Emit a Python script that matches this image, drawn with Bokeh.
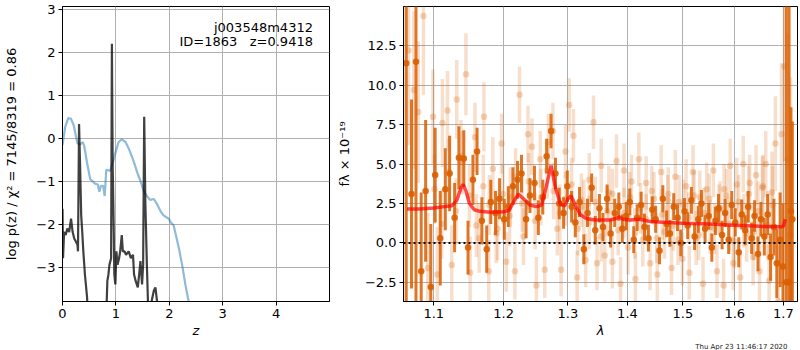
from bokeh.plotting import figure
from bokeh.layouts import row
from bokeh.models import (ColumnDataSource, FixedTicker, CustomJSTickFormatter,
                          Label, Span, Range1d, Title)
from bokeh.embed import file_html
from bokeh.resources import INLINE

# ---------------- left panel data (redshift) ----------------
z_chi2 = [0.0, 0.05, 0.11, 0.16, 0.21, 0.26, 0.28, 0.33, 0.38, 0.41,
          0.46, 0.52, 0.61, 0.66, 0.69, 0.72, 0.76, 0.79, 0.82, 0.86,
          0.89, 0.94, 0.99, 1.05, 1.11, 1.18, 1.24, 1.30, 1.36, 1.39,
          1.46, 1.52, 1.58, 1.64, 1.71, 1.77, 1.83, 1.89, 1.99, 2.03,
          2.08, 2.11, 2.18, 2.24, 2.30, 2.36, 2.45, 3.0, 4.0, 5.0]
chi2_curve = [-0.15, 0.27, 0.48, 0.46, 0.31, 0.0, -0.11, -0.14, -0.08, -0.19,
              -0.57, -0.95, -1.05, -1.07, -1.24, -1.1, -1.1, -1.34, -0.73, -0.74,
              -0.76, -0.57, -0.34, -0.08, -0.02, -0.08, -0.23, -0.42, -0.63, -0.76,
              -0.99, -1.22, -1.34, -1.43, -1.41, -1.53, -1.68, -1.79, -1.87, -1.96,
              -2.02, -2.18, -2.56, -2.94, -3.4, -3.79, -4.5, -8, -12, -15]

z_pz = [0.0, 0.01, 0.03, 0.06, 0.09, 0.125, 0.16, 0.19, 0.22, 0.25,
        0.28, 0.29, 0.31, 0.33, 0.35, 0.37, 0.39, 0.42, 0.46, 0.49,
        0.81, 0.84, 0.86, 0.88, 0.91, 0.925, 0.94, 0.96, 0.97, 0.99,
        1.01, 1.03, 1.06, 1.08, 1.11, 1.13, 1.16, 1.19, 1.24, 1.28,
        1.32, 1.34, 1.37, 1.41, 1.43, 1.46, 1.49, 1.51, 1.53, 1.55,
        1.58, 1.60, 1.63, 1.67, 1.71, 1.74, 1.77, 1.80, 2.5, 5.0]
log_pz = [-1.64, -2.79, -2.18, -2.25, -2.10, -2.18, -1.87, -2.18, -2.33, -2.40,
          -2.48, -2.63, 0.34, -0.65, -1.79, -2.18, -2.63, -3.17, -3.70, -4.5,
          -4.5, -3.32, -3.17, -2.94, -2.79, 2.21, -0.65, -2.18, -3.17, -3.40,
          -2.63, -2.94, -2.79, -2.63, -2.25, -2.63, -2.63, -2.71, -2.63, -2.79,
          -2.71, -3.17, -3.32, -3.47, -3.24, -2.86, -3.40, -2.94, 0.51, -1.41,
          -2.94, -3.79, -4.3, -3.79, -3.55, -3.47, -3.79, -4.5, -10, -20]

z_ticks = [0, 1, 2, 3, 4]
logp_ticks = [-3, -2, -1, 0, 1, 2, 3]

# ---------------- right panel data (spectrum) ----------------
model_wave = [1.064, 1.08, 1.10, 1.115, 1.125, 1.132, 1.138, 1.141, 1.145, 1.150,
              1.157, 1.165, 1.18, 1.20, 1.208, 1.215, 1.222, 1.230, 1.240, 1.250,
              1.258, 1.265, 1.273, 1.280, 1.288, 1.295, 1.300, 1.305, 1.312, 1.320,
              1.330, 1.345, 1.370, 1.380, 1.386, 1.392, 1.405, 1.420, 1.428, 1.44,
              1.47, 1.50, 1.55, 1.60, 1.65, 1.695, 1.700, 1.704]
model_flux = [2.15, 2.15, 2.22, 2.3, 2.35, 2.7, 3.5, 3.7, 3.3, 2.5,
              2.1, 2.0, 1.95, 1.98, 2.05, 2.6, 3.1, 2.8, 2.4, 2.3,
              2.4, 3.5, 4.9, 3.5, 2.45, 2.35, 2.8, 3.0, 2.4, 1.8,
              1.55, 1.45, 1.45, 1.55, 1.65, 1.5, 1.45, 1.5, 1.45, 1.35,
              1.3, 1.25, 1.2, 1.12, 1.05, 1.02, 1.05, 1.5]

dark_wave = [1.063, 1.070, 1.076, 1.083, 1.089, 1.096, 1.102, 1.109, 1.116, 1.122,
             1.129, 1.135, 1.142, 1.148, 1.155, 1.161, 1.168, 1.175, 1.181, 1.188,
             1.194, 1.201, 1.207, 1.214, 1.221, 1.227, 1.234, 1.240, 1.247, 1.253,
             1.260, 1.266, 1.273, 1.280, 1.286, 1.293, 1.299, 1.306, 1.312, 1.319,
             1.326, 1.332, 1.339, 1.345, 1.352, 1.358, 1.365, 1.371, 1.378, 1.385,
             1.391, 1.398, 1.404, 1.411, 1.417, 1.424, 1.430, 1.437, 1.444, 1.450,
             1.457, 1.463, 1.470, 1.476, 1.483, 1.490, 1.496, 1.503, 1.509, 1.516,
             1.522, 1.529, 1.535, 1.542, 1.549, 1.555, 1.562, 1.568, 1.575, 1.581,
             1.588, 1.594, 1.601, 1.608, 1.614, 1.621, 1.627, 1.634, 1.640, 1.647,
             1.653, 1.660, 1.667, 1.673, 1.680, 1.686, 1.693, 1.699, 1.706, 1.712,
             1.716, 1.719]
dark_flux = [11.4, 3.1, 11.5, -1.8, 3.3, -2.8, 4.3, 0.3, 3.4, 4.4,
             1.6, 5.4, 5.35, -0.3, 4.0, 5.8, 1.4, -0.4, 2.6, 1.9,
             2.8, 1.5, 2.3, 3.6, 4.0, 4.4, 1.5, 3.0, 3.8, 1.6,
             2.9, 5.5, 7.1, 4.4, 2.5, 1.9, 3.6, 2.3, 1.3, 2.6,
             -0.4, 1.9, 3.5, 0.8, 2.2, 1.0, 2.8, 0.6, 1.9, 2.3,
             0.9, 1.7, 2.6, 0.2, 1.6, 2.4, 1.0, 0.3, 2.1, 1.5,
             -0.5, 2.8, 1.2, 0.6, 2.3, 1.6, 0.0, 2.0, 1.1, 2.7,
             0.4, 1.5, 2.5, 0.9, 1.7, -0.3, 1.4, 2.2, 0.5, 1.9,
             0.2, 2.4, 1.3, -0.6, 1.8, 0.8, 2.3, 0.3, 1.7, -0.7,
             1.5, 0.4, 1.8, -0.9, 1.0, -1.3, 0.2, -1.5, -2.5, -2.5,
             2.0, 1.5]
dark_err = [16, 6, 16, 5, 4.5, 4, 3, 3, 2.6, 2.4,
            2.2, 2.0, 1.8, 1.7, 1.6, 1.5, 1.5, 1.5, 1.4, 1.4,
            1.3, 1.3, 1.3, 1.2, 1.2, 1.2, 1.2, 1.1, 1.1, 1.1,
            1.1, 1.1, 1.1, 1.0, 1.0, 1.0, 1.0, 1.0, 0.95, 0.95,
            0.95, 0.9, 0.9, 0.9, 0.9, 0.9, 0.9, 0.9, 0.9, 0.9,
            0.9, 0.9, 0.85, 0.85, 0.85, 0.85, 0.85, 0.85, 0.85, 0.85,
            0.85, 0.85, 0.85, 0.85, 0.85, 0.85, 0.85, 0.85, 0.85, 0.85,
            0.85, 0.85, 0.85, 0.85, 0.85, 0.9, 0.9, 0.9, 0.9, 0.9,
            0.9, 0.9, 0.9, 0.95, 0.95, 0.95, 1.0, 1.0, 1.0, 1.1,
            1.1, 1.2, 1.3, 1.5, 1.8, 2.2, 3.0, 4.0, 18, 18,
            6.6, 6.2]

lightA_wave = [1.066, 1.073, 1.079, 1.086, 1.092, 1.099, 1.105, 1.112, 1.119, 1.125,
               1.132, 1.138, 1.145, 1.151, 1.158, 1.164, 1.171, 1.178, 1.184, 1.191,
               1.197, 1.204, 1.210, 1.217, 1.224, 1.230, 1.237, 1.243, 1.250, 1.256,
               1.263, 1.269, 1.276, 1.283, 1.289, 1.296, 1.302, 1.309, 1.315, 1.322,
               1.329, 1.335, 1.342, 1.348, 1.355, 1.361, 1.368, 1.374, 1.381, 1.388,
               1.394, 1.401, 1.407, 1.414, 1.420, 1.427, 1.433, 1.440, 1.447, 1.453,
               1.460, 1.466, 1.473, 1.479, 1.486, 1.493, 1.499, 1.506, 1.512, 1.519,
               1.525, 1.532, 1.538, 1.545, 1.552, 1.558, 1.565, 1.571, 1.578, 1.584,
               1.591, 1.597, 1.604, 1.611, 1.617, 1.624, 1.630, 1.637, 1.643, 1.650,
               1.656, 1.663, 1.670, 1.676, 1.683, 1.689, 1.696, 1.702, 1.709, 1.715]
lightA_flux = [12.2, 9.7, 8.3, 14.4, -1.6, 8.0, -2.0, 7.6, 8.4, -1.4,
               9.1, 5.5, 10.7, -1.9, 6.7, 0.3, 8.0, -1.8, 4.7, 0.9,
               6.3, -1.2, 2.9, -1.8, 9.4, 0.4, 6.9, 6.1, -2.7, 5.3,
               -1.7, 6.4, 7.1, 0.9, -1.7, 5.8, 8.75, 6.8, -2.2, 2.7,
               -1.1, 4.0, 7.65, -1.3, 4.9, -0.8, 3.2, -1.2, 5.2, -2.6,
               4.6, -0.3, 3.9, -2.3, 5.3, 0.2, 3.8, -1.3, 2.8, -2.0,
               4.5, 0.7, 3.1, -1.6, 4.2, 2.6, -1.0, 3.6, -1.9, 4.5,
               0.3, 2.9, -2.6, 3.4, 1.0, 4.6, -1.8, 2.2, -2.7, 3.0,
               4.9, -1.3, 3.7, -2.2, 5.0, 0.6, 3.8, -0.9, 4.3, -1.8,
               3.5, 5.0, -2.4, 3.2, 6.3, -3.7, 6.9, 11.2, 5.3, 0.5]
lightA_err = [6, 5, 4.5, 5, 3.5, 3, 3, 2.8, 2.5, 2.5,
              2.5, 2.3, 2.6, 2.3, 2.2, 2.2, 2.2, 2.0, 2.0, 2.0,
              1.9, 1.9, 1.9, 1.8, 1.8, 1.8, 1.8, 1.8, 1.8, 1.8,
              1.8, 1.8, 1.8, 1.7, 1.7, 1.7, 1.7, 1.7, 1.7, 1.7,
              1.7, 1.7, 1.7, 1.7, 1.7, 1.7, 1.7, 1.7, 1.7, 1.7,
              1.7, 1.7, 1.7, 1.7, 1.7, 1.7, 1.7, 1.7, 1.7, 1.7,
              1.7, 1.7, 1.7, 1.7, 1.7, 1.7, 1.7, 1.7, 1.7, 1.7,
              1.7, 1.7, 1.7, 1.7, 1.7, 1.7, 1.7, 1.7, 1.7, 1.7,
              1.7, 1.7, 1.7, 1.7, 1.8, 1.8, 1.8, 1.8, 1.9, 1.9,
              2.0, 2.1, 2.3, 2.6, 3.0, 3.5, 4.5, 6, 8, 10]

lightB_wave = [1.101, 1.111, 1.121, 1.131, 1.140, 1.150, 1.160, 1.170, 1.179, 1.189,
               1.199, 1.209, 1.218, 1.228, 1.238, 1.248, 1.257, 1.267, 1.277, 1.287,
               1.296, 1.306, 1.316, 1.326, 1.335, 1.345, 1.355, 1.365, 1.374, 1.384,
               1.394, 1.404, 1.413, 1.423, 1.433, 1.443, 1.452, 1.462, 1.472, 1.482,
               1.491, 1.501, 1.511, 1.521, 1.530, 1.540, 1.550, 1.560, 1.569, 1.579,
               1.589, 1.599, 1.608, 1.618, 1.628, 1.638, 1.647, 1.657, 1.667, 1.677]
lightB_flux = [3.4, 1.2, 4.5, 2.0, 5.1, 3.0, 1.1, 3.6, 2.4, 0.6,
               3.1, 1.7, 4.2, 2.5, 3.9, 1.4, 2.9, 4.6, 3.3, 1.9,
               2.8, 3.7, 0.9, 2.3, 1.3, 2.6, 0.4, 2.0, 3.1, 0.8,
               1.9, 2.9, 0.6, 2.2, 1.5, 3.3, 0.3, 1.8, 2.7, 1.1,
               0.2, 2.4, 1.6, 3.0, 0.5, 1.9, 2.8, 0.9, 2.1, 3.4,
               1.2, 0.1, 2.6, 1.4, 3.1, 0.7, 2.0, 3.6, 1.1, 2.4]
lightB_err = [2.2, 2.2, 2.1, 2.1, 2.0, 2.0, 2.0, 2.0, 1.9, 1.9,
              1.9, 1.9, 1.8, 1.8, 1.8, 1.8, 1.8, 1.8, 1.8, 1.8,
              1.7, 1.7, 1.7, 1.7, 1.7, 1.6, 1.6, 1.6, 1.6, 1.6,
              1.6, 1.6, 1.6, 1.6, 1.6, 1.6, 1.6, 1.6, 1.6, 1.6,
              1.6, 1.6, 1.6, 1.6, 1.6, 1.6, 1.6, 1.6, 1.6, 1.6,
              1.7, 1.7, 1.7, 1.7, 1.8, 1.8, 1.9, 2.0, 2.2, 2.5]

wave_ticks = [1.1, 1.2, 1.3, 1.4, 1.5, 1.6, 1.7]
flux_ticks = [-2.5, 0.0, 2.5, 5.0, 7.5, 10.0, 12.5]

FONT = "DejaVu Sans"
ORANGE = "#d95f02"
GRID = "#b0b0b0"
H = 350
BOTTOM = 48


def style(p):
    p.background_fill_color = "white"
    p.border_fill_color = "white"
    p.outline_line_color = "black"
    p.outline_line_width = 1
    p.outline_line_alpha = 1
    for ax in p.axis:
        ax.axis_line_color = "black"
        ax.major_tick_line_color = "black"
        ax.major_tick_in = 0
        ax.major_tick_out = 4
        ax.minor_tick_in = 0
        ax.minor_tick_out = 0
        ax.major_label_text_font = FONT
        ax.major_label_text_font_size = "13px"
        ax.major_label_text_color = "black"
        ax.major_label_standoff = 3
        ax.axis_label_text_font = FONT
        ax.axis_label_text_font_size = "13px"
        ax.axis_label_text_color = "black"
    p.grid.grid_line_color = GRID
    p.grid.grid_line_width = 1


minus_fmt0 = CustomJSTickFormatter(code="return tick.toFixed(0).replace('-', '\u2212');")
minus_fmt1 = CustomJSTickFormatter(code="return tick.toFixed(1).replace('-', '\u2212');")

# ---------------- left figure ----------------
p1 = figure(width=333, height=H, output_backend="svg", toolbar_location=None,
            x_range=Range1d(0, 5.0), y_range=Range1d(-3.8, 3.08),
            min_border_left=62, min_border_right=4, min_border_top=6,
            min_border_bottom=BOTTOM)
p1.line(z_chi2, chi2_curve, line_color="#1f77b4", line_alpha=0.5, line_width=2.2)
p1.line(z_pz, log_pz, line_color="black", line_alpha=0.75, line_width=2.2)
style(p1)
p1.xaxis.ticker = FixedTicker(ticks=z_ticks)
p1.yaxis.ticker = FixedTicker(ticks=logp_ticks)
p1.xgrid.ticker = FixedTicker(ticks=z_ticks)
p1.ygrid.ticker = FixedTicker(ticks=logp_ticks)
p1.yaxis.formatter = minus_fmt0
p1.xaxis.axis_label = "z"
p1.xaxis.axis_label_text_font_style = "italic"
p1.xaxis.axis_label_standoff = 2
p1.yaxis.axis_label = "log p(z) / \u03c7\u00b2 = 7145/8319 = 0.86"
p1.yaxis.axis_label_text_font_style = "normal"
p1.yaxis.axis_label_standoff = 14
p1.add_layout(Label(x=4.69, y=2.59, text="j003548m4312", text_align="right",
                    text_baseline="alphabetic", text_font=FONT,
                    text_font_size="13px", text_color="black"))
p1.add_layout(Label(x=4.69, y=2.27, text="ID=1863\u00a0\u00a0\u00a0z=0.9418",
                    text_align="right", text_baseline="alphabetic", text_font=FONT,
                    text_font_size="13px", text_color="black"))

# ---------------- right figure ----------------
p2 = figure(width=465, height=H, output_backend="svg", toolbar_location=None,
            x_axis_type="log", x_range=Range1d(1.0594, 1.730),
            y_range=Range1d(-3.72, 15.0),
            min_border_left=66, min_border_right=1, min_border_top=6,
            min_border_bottom=BOTTOM)

srcA = ColumnDataSource(dict(w=lightA_wave, f=lightA_flux,
                             lo=[f - e for f, e in zip(lightA_flux, lightA_err)],
                             hi=[f + e for f, e in zip(lightA_flux, lightA_err)]))
srcB = ColumnDataSource(dict(w=lightB_wave, f=lightB_flux,
                             lo=[f - e for f, e in zip(lightB_flux, lightB_err)],
                             hi=[f + e for f, e in zip(lightB_flux, lightB_err)]))
srcD = ColumnDataSource(dict(w=dark_wave, f=dark_flux,
                             lo=[f - e for f, e in zip(dark_flux, dark_err)],
                             hi=[f + e for f, e in zip(dark_flux, dark_err)]))

for src in (srcA, srcB):
    p2.segment(x0="w", y0="lo", x1="w", y1="hi", source=src,
               line_color=ORANGE, line_alpha=0.2, line_width=3.5)
    p2.scatter(x="w", y="f", source=src, size=6.5, fill_color=ORANGE,
               fill_alpha=0.25, line_color=None)

p2.segment(x0="w", y0="lo", x1="w", y1="hi", source=srcD,
           line_color=ORANGE, line_alpha=0.85, line_width=3)
p2.scatter(x="w", y="f", source=srcD, size=6.5, fill_color=ORANGE,
           fill_alpha=0.9, line_color=None)

p2.line(model_wave, model_flux, line_color="red", line_alpha=0.7, line_width=3.5)
p2.add_layout(Span(location=0, dimension="width", line_color="black",
                   line_dash="2 3", line_width=2))

style(p2)
p2.xaxis.ticker = FixedTicker(ticks=wave_ticks)
p2.xgrid.ticker = FixedTicker(ticks=wave_ticks)
p2.yaxis.ticker = FixedTicker(ticks=flux_ticks)
p2.ygrid.ticker = FixedTicker(ticks=flux_ticks)
p2.xaxis.formatter = minus_fmt1
p2.yaxis.formatter = minus_fmt1
p2.xaxis.axis_label = "\u03bb"
p2.xaxis.axis_label_text_font_style = "italic"
p2.xaxis.axis_label_standoff = 2
p2.yaxis.axis_label = "f\u03bb \u00d7 10\u207b\u00b9\u2079"
p2.yaxis.axis_label_text_font_style = "normal"
p2.yaxis.axis_label_standoff = 10
p2.add_layout(Title(text="Thu Apr 23 11:46:17 2020", align="right",
                    text_font=FONT, text_font_size="7px",
                    text_font_style="normal", text_color="#222222",
                    standoff=0, offset=10), "below")

layout = row(p1, p2)
open("out.html", "w").write(file_html(layout, INLINE))
